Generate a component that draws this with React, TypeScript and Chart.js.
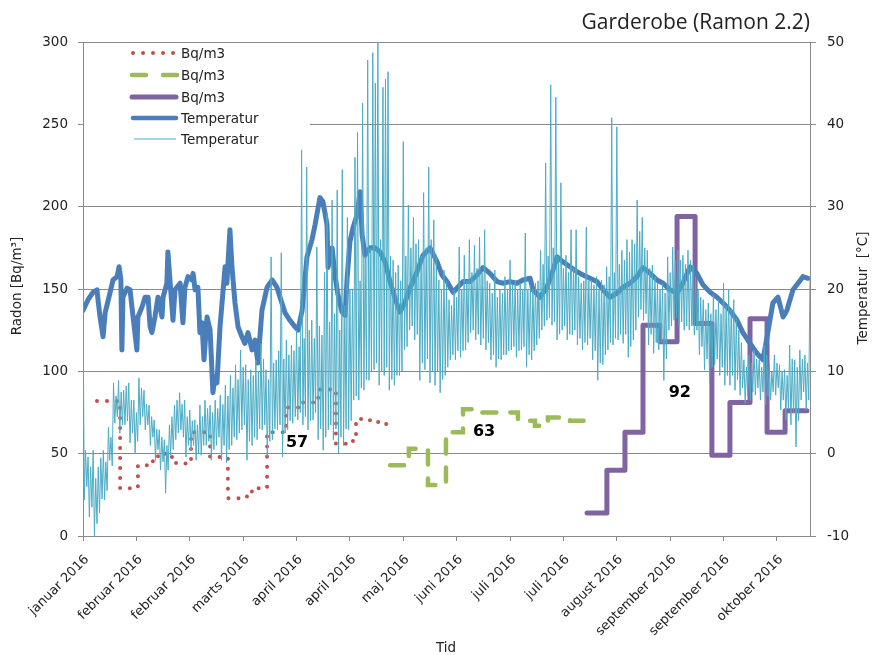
import React, { useEffect, useRef } from "react";
import { Chart, registerables } from "chart.js";

Chart.register(...registerables);

// ---- X axis: days counted from the axis start (mid January 2016) ----
const tickDays = [0, 21, 42, 63, 84, 105, 126, 147, 168, 189, 210, 231, 252, 273];
const tickLabels = [
  "januar 2016", "februar 2016", "februar 2016", "marts 2016", "april 2016",
  "april 2016", "maj 2016", "juni 2016", "juli 2016", "juli 2016",
  "august 2016", "september 2016", "september 2016", "oktober 2016",
];
const axisEndDay = 286;

// ---- Radon series (Bq/m3), step values ----
const redDays = [5.5, 14.6, 21.6, 27.5, 29.5, 35.0, 36.6, 42.5, 50.0, 57.0, 64.5, 66.5, 72.4, 79.9, 86.5, 92.1, 93.2, 99.5, 106.2, 107.4, 112.9, 116.1, 121.6];
const redValues = [82, 29, 43, 46, 50, 46, 44, 63, 48, 23, 27, 29, 63, 78, 81, 84, 89, 56, 58, 71, 70, 68, 68];

const greenDays = [120.8, 128.2, 135.7, 142.8, 149.5, 156.2, 171.1, 177.8, 182.9, 191.6, 200.2];
const greenValues = [43, 53, 31, 63, 77, 75, 70, 67, 72, 70, 70];

const purpleDays = [198.3, 206.1, 213.2, 220.3, 226.9, 233.7, 240.8, 247.4, 254.5, 262.4, 269.1, 276.2, 284.8];
const purpleValues = [14, 40, 63, 128, 118, 194, 129, 49, 81, 132, 63, 76, 76];

// ---- Average labels ----
const avgLabelDays = [84.2, 157.8, 234.8];
const avgLabelPos = [56.5, 63.2, 87.2];
const avgLabelValues = [57, 63, 92];

// ---- Temperature (thick) ----
const darkDays = [0, 2.0, 3.9, 5.5, 5.9, 6.7, 7.9, 8.7, 10.6, 11.8, 13.4, 14.2, 14.9, 15.3, 15.7, 17.3, 18.5, 19.7, 21.2, 21.6, 23.2, 24.4, 25.6, 26.4, 27.1, 28.3, 29.5, 31.1, 31.5, 33.0, 33.4, 34.2, 35.4, 36.2, 38.2, 39.3, 40.1, 41.3, 42.9, 43.3, 44.1, 45.2, 46.0, 46.8, 47.6, 48.8, 50.0, 51.1, 51.9, 52.7, 53.9, 55.9, 56.6, 57.8, 58.6, 59.8, 61.0, 62.5, 63.7, 64.9, 66.5, 67.7, 68.8, 70.4, 72.4, 74.4, 76.3, 77.5, 79.5, 81.4, 83.4, 84.6, 86.2, 88.1, 90.1, 91.3, 93.2, 94.4, 96.0, 96.4, 98.0, 99.1, 100.3, 101.9, 103.1, 103.9, 105.0, 106.2, 107.8, 109.0, 109.8, 110.9, 112.9, 114.9, 116.8, 118.8, 120.8, 122.7, 124.7, 126.7, 128.6, 131.4, 133.8, 136.5, 139.3, 141.2, 143.2, 145.6, 147.1, 149.5, 152.2, 155.0, 157.4, 160.1, 162.9, 165.2, 168.0, 170.7, 173.1, 175.9, 177.0, 179.8, 182.5, 184.9, 186.5, 188.8, 191.6, 194.3, 196.7, 199.4, 202.2, 204.6, 207.3, 210.1, 212.4, 215.2, 217.9, 220.3, 223.1, 225.8, 228.2, 230.9, 233.7, 236.0, 238.8, 241.5, 243.9, 246.7, 249.4, 251.8, 254.5, 257.3, 259.6, 262.4, 265.1, 267.5, 269.1, 271.4, 273.4, 275.4, 276.9, 279.3, 281.3, 283.2, 285.2];
const darkTemps = [17.4, 18.7, 19.6, 19.9, 18.7, 16.6, 14.2, 17.1, 19.5, 21.1, 21.5, 22.7, 21.1, 12.6, 19.0, 20.1, 19.9, 16.6, 12.6, 16.6, 17.8, 19.0, 19.0, 15.4, 14.7, 16.6, 19.0, 16.6, 19.0, 20.7, 24.5, 21.1, 16.2, 19.9, 20.7, 15.9, 20.2, 21.5, 21.1, 21.9, 19.9, 20.2, 14.7, 15.9, 11.4, 16.6, 15.0, 7.4, 9.3, 8.6, 15.4, 22.7, 20.7, 27.2, 22.7, 18.3, 15.4, 14.2, 13.4, 14.7, 12.6, 13.8, 11.0, 17.4, 20.2, 21.1, 20.2, 19.0, 17.1, 16.2, 15.4, 15.0, 17.4, 23.9, 26.0, 27.8, 31.1, 30.6, 27.8, 22.6, 25.0, 21.7, 19.3, 17.2, 16.8, 21.3, 25.7, 27.4, 29.0, 31.8, 26.6, 24.1, 25.0, 25.0, 24.5, 23.3, 20.9, 18.9, 17.2, 18.4, 20.1, 22.1, 24.1, 25.0, 23.3, 21.7, 20.9, 19.6, 20.1, 20.9, 20.9, 21.7, 22.6, 21.9, 20.9, 20.7, 20.9, 20.7, 21.1, 21.3, 19.9, 19.0, 20.2, 22.3, 23.9, 23.3, 22.7, 22.1, 21.7, 21.3, 20.9, 19.9, 19.0, 19.5, 20.2, 20.7, 21.5, 22.6, 21.9, 21.1, 20.7, 19.9, 19.5, 20.7, 22.7, 21.9, 20.5, 19.6, 19.0, 18.3, 17.4, 16.2, 14.7, 13.4, 12.2, 11.4, 14.2, 18.3, 19.0, 16.6, 17.4, 19.9, 20.7, 21.5, 21.3];

// ---- Temperature (thin), readings every half day from day 0 ----
const thinTemps = [
  19.5, -5.6, 0.4, -4.0, -0.4, -7.7, -1.6, -6.5, 0.4, -10.0, -3.0, -8.5,
  -1.6, -7.2, -0.5, -5.5, 0.4, -5.6, -1.0, -4.5, 3.2, -0.8, 2.0, -1.5,
  8.6, 3.7, 7.0, 4.5, 8.9, 2.5, 7.5, 3.5, 7.7, 3.5, 8.2, 4.0,
  8.6, 1.3, 6.5, 2.5, 6.5, 0.1, 5.0, 1.5, 9.2, 3.5, 8.0, 4.5,
  7.7, 2.9, 6.0, 3.5, 5.9, 1.0, 4.5, 2.0, 4.1, -0.8, 3.0, 0.5,
  2.9, -2.0, 2.0, -1.0, 1.7, -4.8, 1.0, -2.0, 3.5, -0.2, 4.5, 0.5,
  5.9, 1.7, 6.5, 2.5, 7.4, 2.9, 6.0, 2.0, 6.5, -0.4, 4.5, 1.0,
  5.3, 0.4, 4.0, 1.0, 4.1, -0.8, 3.5, 0.0, 5.9, -0.2, 4.5, 1.0,
  6.5, 1.0, 5.5, 1.5, 5.9, -0.8, 5.0, 0.5, 6.5, 1.0, 5.5, 2.0,
  7.1, -0.8, 6.0, 1.0, 8.3, -1.1, 7.0, 0.5, 9.5, 1.0, 8.0, 2.0,
  10.8, 1.7, 9.0, 2.5, 12.6, 2.9, 10.5, 3.5, 10.8, -0.8, 9.0, 1.5,
  10.2, 1.0, 9.5, 2.0, 11.4, 1.7, 10.0, 3.0, 13.4, 2.9, 11.5, 3.5,
  10.2, -0.4, 9.0, 1.5, 23.9, 1.7, 11.0, 3.0, 11.4, 2.9, 12.5, 3.5,
  24.4, -0.4, 11.5, 2.5, 13.8, 2.9, 12.0, 4.0, 13.2, 3.7, 12.5, 4.5,
  15.0, 4.1, 13.0, 5.0, 36.9, 3.5, 14.0, 4.5, 34.8, 2.9, 15.0, 4.0,
  16.2, 4.1, 14.0, 5.0, 25.1, 1.7, 15.5, 3.0, 14.4, 0.4, 22.0, 2.0,
  29.2, 2.9, 16.0, 3.5, 30.8, 1.7, 17.0, 3.0, 32.0, 0.1, 15.0, 2.0,
  34.5, 1.0, 18.0, 3.0, 28.7, 2.9, 20.0, 4.0, 19.9, 6.5, 36.0, 7.0,
  39.0, 6.5, 21.0, 8.0, 42.6, 7.7, 24.0, 9.0, 47.8, 8.9, 25.0, 10.0,
  48.7, 10.2, 45.0, 11.0, 50.0, 8.3, 26.0, 10.0, 44.5, 9.5, 45.5, 10.5,
  46.4, 7.7, 24.0, 9.0, 23.5, 8.3, 22.0, 9.5, 22.9, 9.5, 21.0, 10.0,
  37.9, 12.6, 24.0, 13.0, 30.2, 15.0, 25.0, 15.5, 28.7, 13.8, 25.5, 14.5,
  26.0, 8.9, 24.0, 11.0, 31.7, 10.2, 25.0, 11.5, 34.8, 8.6, 26.0, 10.0,
  28.4, 8.3, 24.0, 10.0, 21.1, 7.4, 20.0, 9.0, 22.3, 9.5, 21.0, 10.5,
  18.7, 11.4, 18.0, 12.0, 19.9, 11.4, 19.0, 12.5, 25.1, 11.7, 20.0, 12.5,
  24.1, 12.6, 21.0, 13.5, 26.0, 14.7, 22.0, 15.0, 25.3, 13.8, 22.5, 14.5,
  26.3, 13.2, 22.0, 14.0, 27.2, 12.6, 21.0, 13.5, 20.7, 11.4, 19.5, 12.0,
  22.3, 10.5, 19.0, 11.5, 19.9, 11.4, 19.5, 12.0, 21.5, 12.0, 20.0, 12.5,
  23.5, 12.6, 20.5, 13.0, 21.1, 11.7, 20.0, 12.5, 20.7, 12.6, 20.0, 13.0,
  26.8, 10.5, 20.0, 12.0, 20.5, 11.4, 20.0, 12.5, 20.7, 13.2, 21.0, 14.0,
  24.7, 15.0, 23.0, 15.5, 35.3, 16.2, 24.0, 16.5, 44.8, 15.6, 25.0, 16.0,
  43.3, 13.8, 24.0, 14.5, 32.9, 15.0, 22.5, 15.5, 24.1, 13.8, 22.0, 14.5,
  27.2, 14.4, 22.5, 15.0, 27.2, 13.2, 21.5, 14.0, 20.7, 12.6, 21.0, 13.5,
  27.5, 13.2, 21.0, 14.0, 21.1, 11.4, 20.5, 12.5, 21.5, 8.9, 20.0, 11.0,
  21.1, 10.8, 20.5, 12.0, 22.7, 12.6, 21.5, 13.5, 40.8, 13.2, 22.0, 14.0,
  39.7, 13.8, 23.0, 14.5, 24.7, 13.4, 23.5, 14.5, 26.0, 11.7, 24.5, 13.0,
  26.0, 13.8, 25.5, 15.0, 30.8, 16.6, 27.0, 17.5, 28.7, 16.2, 25.0, 17.0,
  24.7, 13.2, 22.5, 14.5, 22.9, 12.2, 21.5, 13.5, 20.7, 12.6, 20.0, 13.5,
  20.7, 8.9, 19.5, 11.5, 23.9, 15.0, 22.0, 15.5, 25.1, 16.2, 23.5, 16.5,
  24.7, 15.6, 23.5, 16.0, 24.1, 15.0, 23.0, 15.5, 24.7, 15.0, 23.5, 15.5,
  22.9, 14.4, 21.5, 15.0, 19.9, 12.0, 19.0, 13.0, 18.7, 10.2, 17.5, 11.5,
  18.3, 8.6, 17.0, 10.5, 19.3, 10.8, 17.5, 11.5, 18.7, 9.5, 17.0, 10.5,
  20.7, 8.3, 18.0, 9.5, 19.9, 8.3, 17.5, 9.5, 18.7, 7.7, 16.5, 9.0,
  15.0, 7.1, 13.5, 8.0, 11.4, 6.1, 10.5, 7.0, 12.0, 6.5, 11.0, 7.5,
  12.6, 7.1, 11.5, 8.0, 11.4, 6.5, 10.5, 7.5, 13.2, 5.9, 12.0, 7.0,
  10.8, 6.5, 10.0, 7.5, 12.0, 7.1, 11.0, 8.0, 10.8, 5.3, 10.0, 6.5,
  10.2, 4.1, 9.5, 5.5, 13.2, 3.5, 11.5, 5.0, 11.4, 0.8, 10.5, 4.0,
  12.6, 6.5, 11.5, 7.5, 12.0, 5.3, 11.0, 6.5, 21.5,
];
const thinStepDays = 0.5;

const seriesNames = ["Bq/m3", "Bq/m3", "Bq/m3", "Temperatur", "Temperatur"];

const RED = "#C0504D";
const GREEN = "#9BBB59";
const PURPLE = "#8064A2";
const DARK_BLUE = "#4A7EBB";
const LIGHT_BLUE = "#4BACC6";
const GRID = "#8A8A8A";
const TEXT = "#222222";
const FONT = "DejaVu Sans";

const decorPlugin = {
  id: "decor",
  beforeDatasetsDraw(chart: any) {
    const { ctx, chartArea } = chart;
    ctx.save();
    ctx.fillStyle = "#ffffff";
    ctx.fillRect(chartArea.left + 1, 44, 310 - chartArea.left - 1, 104);
    ctx.restore();
  },
  afterDatasetsDraw(chart: any) {
    const { ctx } = chart;
    const xs = chart.scales.x;
    const yr = chart.scales.yR;
    ctx.save();
    ctx.font = `bold 16px ${FONT}`;
    ctx.fillStyle = "#000";
    ctx.textAlign = "center";
    ctx.textBaseline = "middle";
    avgLabelValues.forEach((v, i) => {
      ctx.fillText(String(v), xs.getPixelForValue(avgLabelDays[i]), yr.getPixelForValue(avgLabelPos[i]));
    });
    const rows = [53, 75, 97, 118, 139];
    const styles = [
      { color: RED, width: 4, dash: [0.01, 10], x0: 133, x1: 176 },
      { color: GREEN, width: 4.5, dash: [14, 17], x0: 132, x1: 178 },
      { color: PURPLE, width: 5, dash: [], x0: 132, x1: 176 },
      { color: DARK_BLUE, width: 4.5, dash: [], x0: 133, x1: 176 },
      { color: LIGHT_BLUE, width: 1, dash: [], x0: 134, x1: 176 },
    ];
    styles.forEach((s, i) => {
      ctx.beginPath();
      ctx.strokeStyle = s.color;
      ctx.lineWidth = s.width;
      ctx.lineCap = s.width > 1 ? "round" : "butt";
      ctx.setLineDash(s.dash);
      ctx.moveTo(s.x0, rows[i]);
      ctx.lineTo(s.x1, rows[i]);
      ctx.stroke();
    });
    ctx.setLineDash([]);
    ctx.font = `13.5px ${FONT}`;
    ctx.fillStyle = TEXT;
    ctx.textAlign = "left";
    ctx.textBaseline = "middle";
    seriesNames.forEach((n, i) => ctx.fillText(n, 181, rows[i] + 1));
    ctx.restore();
  },
  afterDraw(chart: any) {
    const { ctx, chartArea } = chart;
    ctx.save();
    ctx.fillStyle = TEXT;
    ctx.font = `21px "Open Sans"`;
    ctx.textAlign = "right";
    ctx.textBaseline = "middle";
    ctx.fillText("Garderobe (Ramon 2.2)", chartArea.right, 23);
    ctx.font = `13.5px ${FONT}`;
    ctx.textAlign = "center";
    ctx.save();
    ctx.translate(17, 286);
    ctx.rotate(-Math.PI / 2);
    ctx.fillText("Radon [Bq/m³]", 0, 0);
    ctx.restore();
    ctx.save();
    ctx.translate(863, 288);
    ctx.rotate(-Math.PI / 2);
    ctx.fillText("Temperatur  [°C]", 0, 0);
    ctx.restore();
    ctx.fillText("Tid", 446, 648);
    ctx.restore();
  },
};

export default function App() {
  const ref = useRef<HTMLCanvasElement>(null);
  useEffect(() => {
    const canvas = ref.current;
    if (!canvas) return;
    Chart.defaults.font.family = FONT;
    const chart = new Chart(canvas, {
      type: "line",
      data: {
        datasets: [
          {
            label: "Temperatur",
            data: thinTemps.map((t, i) => ({ x: i * thinStepDays, y: t })),
            yAxisID: "yT",
            borderColor: LIGHT_BLUE,
            borderWidth: 1,
            pointRadius: 0,
            order: 0,
          },
          {
            label: "Temperatur",
            data: darkDays.map((d, i) => ({ x: d, y: darkTemps[i] })),
            yAxisID: "yT",
            borderColor: DARK_BLUE,
            borderWidth: 5,
            borderJoinStyle: "round",
            borderCapStyle: "round",
            pointRadius: 0,
            order: 1,
          },
          {
            label: "Bq/m3",
            data: purpleDays.map((d, i) => ({ x: d, y: purpleValues[i] })),
            yAxisID: "yR",
            borderColor: PURPLE,
            borderWidth: 5,
            stepped: true,
            borderJoinStyle: "round",
            borderCapStyle: "round",
            pointRadius: 0,
            order: 2,
          },
          {
            label: "Bq/m3",
            data: greenDays.map((d, i) => ({ x: d, y: greenValues[i] })),
            yAxisID: "yR",
            borderColor: GREEN,
            borderWidth: 4.5,
            borderDash: [14, 14],
            borderCapStyle: "round",
            stepped: true,
            pointRadius: 0,
            order: 3,
          },
          {
            label: "Bq/m3",
            data: redDays.map((d, i) => ({ x: d, y: redValues[i] })),
            yAxisID: "yR",
            borderColor: RED,
            borderWidth: 4,
            borderDash: [0.01, 10],
            borderCapStyle: "round",
            stepped: true,
            pointRadius: 0,
            order: 4,
          },
        ],
      },
      options: {
        responsive: false,
        devicePixelRatio: 1,
        animation: false,
        events: [],
        layout: { padding: { top: 42, left: 0, right: 0, bottom: 0 } },
        plugins: {
          legend: { display: false },
          tooltip: { enabled: false },
          title: { display: false },
        },
        scales: {
          x: {
            type: "linear",
            min: 0,
            max: axisEndDay,
            afterBuildTicks: (s: any) => {
              s.ticks = tickDays.map((v) => ({ value: v }));
            },
            afterFit: (s: any) => {
              s.height = 119;
            },
            ticks: {
              autoSkip: false,
              minRotation: 45,
              maxRotation: 45,
              padding: 11,
              labelOffset: 4,
              color: TEXT,
              font: { size: 13, family: FONT },
              callback: (_v: any, i: number) => tickLabels[i],
            },
            grid: { drawOnChartArea: false, color: GRID, tickLength: 5 },
            border: { color: GRID },
          },
          yR: {
            type: "linear",
            position: "left",
            min: 0,
            max: 300,
            afterFit: (s: any) => {
              s.width = 83;
            },
            ticks: { stepSize: 50, padding: 10, color: TEXT, font: { size: 13.5, family: FONT } },
            grid: { color: GRID, tickLength: 5 },
            border: { color: GRID },
          },
          yT: {
            type: "linear",
            position: "right",
            min: -10,
            max: 50,
            afterFit: (s: any) => {
              s.width = 62;
            },
            ticks: { stepSize: 10, padding: 11, color: TEXT, font: { size: 13.5, family: FONT } },
            grid: { drawOnChartArea: false, color: GRID, tickLength: 6 },
            border: { color: GRID },
          },
        },
      },
      plugins: [decorPlugin],
    });
    return () => chart.destroy();
  }, []);
  return (
    <div style={{ position: "fixed", left: 0, top: 0, width: 872, height: 655, background: "#fff" }}>
      <canvas ref={ref} width={872} height={655} style={{ display: "block", width: 872, height: 655 }} />
    </div>
  );
}
